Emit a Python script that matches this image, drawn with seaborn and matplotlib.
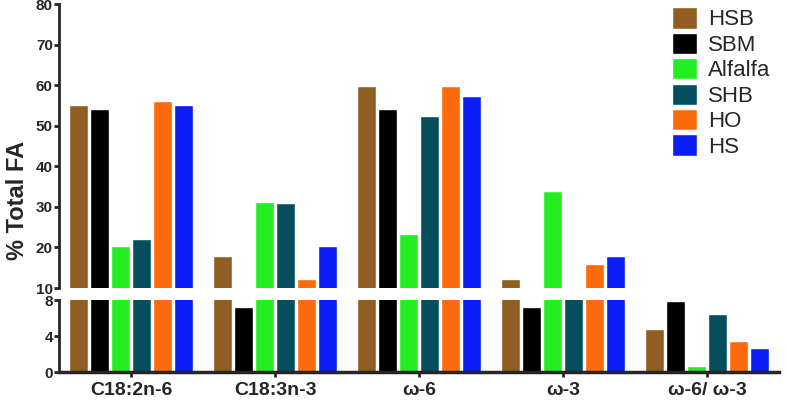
import matplotlib
matplotlib.use("Agg")
import matplotlib.pyplot as plt
import seaborn as sns
import pandas as pd

categories = ["C18:2n-6", "C18:3n-3", "ω-6", "ω-3", "ω-6/ ω-3"]
groups = ["HSB", "SBM", "Alfalfa", "SHB", "HO", "HS"]
HSB = [55.0, 18.0, 59.7, 12.2, 4.8]
SBM = [54.0, 7.2, 54.0, 7.2, 7.9]
Alfalfa = [20.3, 31.3, 23.3, 34.0, 0.7]
SHB = [22.0, 31.0, 52.3, 9.0, 6.4]
HO = [56.0, 12.2, 59.7, 16.0, 3.4]
HS = [55.0, 20.4, 57.3, 17.8, 2.7]
colors = ["#8f5f22", "#000000", "#22ee22", "#064e5e", "#ff6a0a", "#0a1ef5"]

rows = []
for g, vals in zip(groups, [HSB, SBM, Alfalfa, SHB, HO, HS]):
    for c, v in zip(categories, vals):
        rows.append({"cat": c, "group": g, "val": v})
df = pd.DataFrame(rows)

sns.set_style("ticks")
plt.rcParams['font.family'] = ['Liberation Sans', 'DejaVu Sans']
fig = plt.figure(figsize=(7.87, 4.0), dpi=100)
ax1 = fig.add_axes([0.075, 0.28, 0.915, 0.71])
ax2 = fig.add_axes([0.075, 0.07, 0.915, 0.18])
for ax in (ax1, ax2):
    sns.barplot(data=df, x="cat", y="val", hue="group", palette=colors,
                ax=ax, width=0.88, gap=0.1, legend=(ax is ax1), saturation=1)
    ax.set_xlabel("")
    ax.set_ylabel("")
    for s in ("top", "right"):
        ax.spines[s].set_visible(False)
    ax.spines["left"].set_linewidth(2)
    ax.tick_params(axis="y", width=2, labelsize=11, pad=1)
ax1.set_ylim(10, 80)
ax1.set_yticks(range(10, 81, 10))
ax1.spines["bottom"].set_visible(False)
ax1.tick_params(axis="x", bottom=False, labelbottom=False)
ax2.set_ylim(0, 8)
ax2.set_yticks([0, 4, 8])
ax2.spines["bottom"].set_linewidth(2.5)
ax2.tick_params(axis="x", width=2, labelsize=14)
for t in ax2.get_xticklabels():
    t.set_fontweight("bold")
for t in ax1.get_yticklabels() + ax2.get_yticklabels():
    t.set_fontweight("bold")
fig.text(0.022, 0.5, "% Total FA", rotation=90, va="center", ha="center",
         fontsize=17, fontweight="bold")
leg = ax1.legend(loc="upper right", frameon=False, fontsize=16, handlelength=1.1,
                 handleheight=1.1, labelspacing=0.1, borderaxespad=0.0,
                 handletextpad=0.5, bbox_to_anchor=(1.0, 1.02))
fig.savefig("out.png", dpi=100)
